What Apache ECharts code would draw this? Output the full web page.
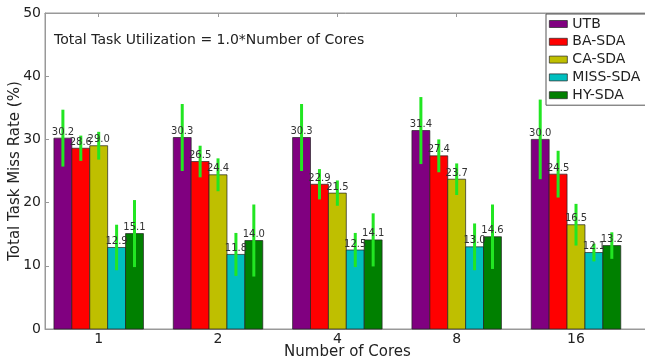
<!DOCTYPE html>
<html>
<head>
<meta charset="utf-8">
<script src="https://cdn.jsdelivr.net/npm/echarts@6/dist/echarts.min.js"></script>
<style>
html,body{margin:0;padding:0;background:#fff;}
#chart{width:645px;height:362px;}
</style>
</head>
<body>
<div id="chart"></div>
<script>
const categories = ['1', '2', '4', '8', '16'];
const seriesNames = ['UTB', 'BA-SDA', 'CA-SDA', 'MISS-SDA', 'HY-SDA'];
const utb = [30.2, 30.3, 30.3, 31.4, 30.0];
const baSda = [28.6, 26.5, 22.9, 27.4, 24.5];
const caSda = [29.0, 24.4, 21.5, 23.7, 16.5];
const missSda = [12.9, 11.8, 12.5, 13.0, 12.1];
const hySda = [15.1, 14.0, 14.1, 14.6, 13.2];
const utbErr = [4.5, 5.3, 5.3, 5.3, 6.3];
const baSdaErr = [2.0, 2.5, 2.4, 2.6, 3.7];
const caSdaErr = [2.2, 2.6, 2.0, 2.5, 3.3];
const missSdaErr = [3.6, 3.4, 2.7, 3.7, 1.4];
const hySdaErr = [5.3, 5.7, 4.2, 5.1, 2.1];
const yTicks = [0, 10, 20, 30, 40, 50];

const values = [utb, baSda, caSda, missSda, hySda];
const errs = [utbErr, baSdaErr, caSdaErr, missSdaErr, hySdaErr];
const colors = ['#800080', '#ff0000', '#bfbf00', '#00bfbf', '#008000'];
const FONT = 'DejaVu Sans';
const BAR_W = 17.9;
const positions = categories.map((c, i) => i);

const series = [];
values.forEach((vals, k) => {
  series.push({
    name: seriesNames[k],
    type: 'custom',
    z: 2,
    itemStyle: { color: colors[k], borderColor: '#222', borderWidth: 0.7 },
    data: vals.map((v, i) => [positions[i], v]),
    renderItem: function (params, api) {
      const base = api.coord([api.value(0), 0]);
      const top = api.coord([api.value(0), api.value(1)]);
      const cx = base[0] + (k - 2) * BAR_W;
      return {
        type: 'rect',
        shape: { x: cx - BAR_W / 2, y: top[1], width: BAR_W, height: base[1] - top[1] },
        style: { fill: colors[k], stroke: '#222', lineWidth: 0.7 }
      };
    }
  });
});
values.forEach((vals, k) => {
  series.push({
    name: seriesNames[k] + ' err',
    type: 'custom',
    z: 3,
    silent: true,
    data: vals.map((v, i) => [positions[i], v - errs[k][i], v + errs[k][i], v]),
    renderItem: function (params, api) {
      const lo = api.coord([api.value(0), api.value(1)]);
      const hi = api.coord([api.value(0), api.value(2)]);
      const top = api.coord([api.value(0), api.value(3)]);
      const off = (k - 2) * BAR_W;
      return {
        type: 'group',
        children: [{
          type: 'line',
          shape: { x1: lo[0] + off, y1: lo[1], x2: hi[0] + off, y2: hi[1] },
          style: { stroke: '#22e622', lineWidth: 3 }
        }, {
          type: 'text',
          x: top[0] + off, y: top[1] - 1,
          style: {
            text: api.value(3).toFixed(1),
            align: 'center', verticalAlign: 'bottom',
            fontFamily: FONT, fontSize: 10, fill: '#333'
          }
        }]
      };
    }
  });
});

const chart = echarts.init(document.getElementById('chart'), null, { renderer: 'canvas' });
chart.setOption({
  animation: false,
  backgroundColor: '#fff',
  textStyle: { fontFamily: FONT },
  title: {
    text: 'Total Task Utilization = 1.0*Number of Cores',
    left: 54, top: 33, padding: 0,
    textStyle: { fontFamily: FONT, fontSize: 14, fontWeight: 'normal', color: '#222' }
  },
  legend: {
    data: seriesNames.map((n, k) => ({ name: n, itemStyle: { color: colors[k], borderColor: '#222', borderWidth: 0.7 } })),
    orient: 'vertical',
    left: 546, top: 14,
    padding: [3, 30, 3, 3],
    itemGap: 3.8,
    itemWidth: 18, itemHeight: 7,
    icon: 'rect',
    backgroundColor: '#fff',
    borderColor: '#555', borderWidth: 1,
    textStyle: { fontFamily: FONT, fontSize: 14, color: '#222' }
  },
  grid: {
    left: 45, right: -5, top: 13, bottom: 33,
    outerBoundsMode: 'none',
    containLabel: false,
    show: true, borderColor: '#999', borderWidth: 1, backgroundColor: 'transparent'
  },
  xAxis: [{
    type: 'value',
    min: -0.45, max: 4.62,
    name: 'Number of Cores',
    nameLocation: 'middle', nameGap: 15.5,
    nameMoveOverlap: false,
    nameTextStyle: { fontFamily: FONT, fontSize: 15, color: '#222' },
    axisLine: { show: true, onZero: false, lineStyle: { color: '#999' } },
    axisTick: { show: true, inside: true, length: 4, customValues: positions, lineStyle: { color: '#999' } },
    axisLabel: {
      show: true, customValues: positions, margin: 3,
      fontFamily: FONT, fontSize: 14, color: '#222',
      formatter: v => categories[Math.round(v)]
    },
    splitLine: { show: false }
  }, {
    type: 'value',
    position: 'top',
    min: -0.45, max: 4.62,
    axisLine: { show: true, onZero: false, lineStyle: { color: '#999' } },
    axisTick: { show: true, inside: true, length: 4, customValues: positions, lineStyle: { color: '#999' } },
    axisLabel: { show: false },
    splitLine: { show: false }
  }],
  yAxis: {
    type: 'value',
    min: 0, max: 50, interval: 10,
    name: 'Total Task Miss Rate (%)',
    nameLocation: 'middle', nameGap: 22.5,
    nameMoveOverlap: false,
    nameTextStyle: { fontFamily: FONT, fontSize: 15, color: '#222' },
    axisLine: { show: true, onZero: false, lineStyle: { color: '#999' } },
    axisTick: { show: true, inside: true, length: 4, lineStyle: { color: '#999' } },
    axisLabel: {
      fontFamily: FONT, fontSize: 14, color: '#222', margin: 4,
      formatter: v => yTicks.includes(v) ? String(v) : ''
    },
    splitLine: { show: false }
  },
  series: series
});
</script>
</body>
</html>
